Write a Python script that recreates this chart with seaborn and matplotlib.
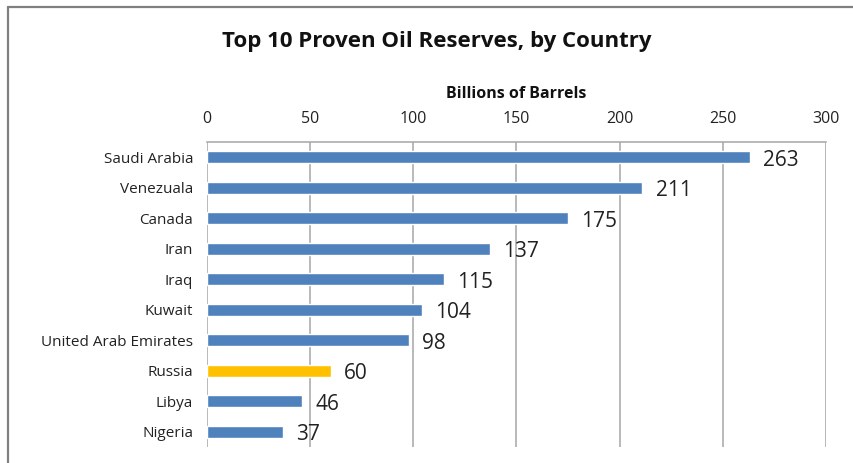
import matplotlib
matplotlib.use("Agg")
import matplotlib.pyplot as plt
import seaborn as sns
import pandas as pd
from matplotlib.lines import Line2D

countries = ["Saudi Arabia", "Venezuala", "Canada", "Iran", "Iraq", "Kuwait",
             "United Arab Emirates", "Russia", "Libya", "Nigeria"]
reserves = [263, 211, 175, 137, 115, 104, 98, 60, 46, 37]
highlight = "Russia"
x_ticks = [0, 50, 100, 150, 200, 250, 300]

BLUE = "#4F81BD"
GOLD = "#FFC000"
GRID = "#A6A6A6"
FONT = ["Open Sans", "DejaVu Sans"]

sns.set_theme(style="white")
plt.rcParams["font.family"] = FONT

df = pd.DataFrame({"country": countries, "reserves": reserves})
df["group"] = ["hl" if c == highlight else "base" for c in df["country"]]

fig = plt.figure(figsize=(8.54, 4.63), dpi=100)
ax = fig.add_axes([207 / 854, 1 - 447 / 463, (826 - 207) / 854, (447 - 142) / 463])

sns.barplot(data=df, x="reserves", y="country", hue="group",
            palette={"base": BLUE, "hl": GOLD}, dodge=False, legend=False,
            width=0.4, orient="h", ax=ax, saturation=1)

ax.set_xlim(0, 300)
ax.set_ylim(len(countries) - 0.5, -0.5)
ax.set_xticks(x_ticks)
ax.xaxis.tick_top()
ax.xaxis.set_label_position("top")
ax.tick_params(axis="x", length=0, pad=10.5, labelsize=11.5, colors="#222222")
ax.tick_params(axis="y", length=0, pad=10, labelsize=11, colors="#222222")
ax.set_xlabel("Billions of Barrels", fontsize=11.5, fontweight="bold", labelpad=10,
              color="#111111")
ax.set_ylabel("")

ax.grid(axis="x", color=GRID, linewidth=1.1)
ax.set_axisbelow(True)
for side in ["bottom", "right", "left"]:
    ax.spines[side].set_visible(False)
ax.spines["top"].set_color(GRID)
ax.spines["top"].set_linewidth(1.1)

for i, v in enumerate(reserves):
    ax.annotate(str(v), xy=(v, i), xytext=(9.5, -2), textcoords="offset points",
                ha="left", va="center", fontsize=15, color="#222222")

fig.text(437 / 854, 1 - 41 / 463, "Top 10 Proven Oil Reserves, by Country",
         ha="center", va="center", fontsize=16, fontweight="bold", color="#111111")

# outer chart frame (left and top edges)
fig.add_artist(Line2D([8 / 854, 8 / 854], [0, 1 - 7 / 463], transform=fig.transFigure,
                      color="#808080", linewidth=1.6))
fig.add_artist(Line2D([8 / 854, 1], [1 - 7 / 463, 1 - 7 / 463], transform=fig.transFigure,
                      color="#808080", linewidth=1.6))

fig.savefig("out.png", dpi=100, facecolor="white")
